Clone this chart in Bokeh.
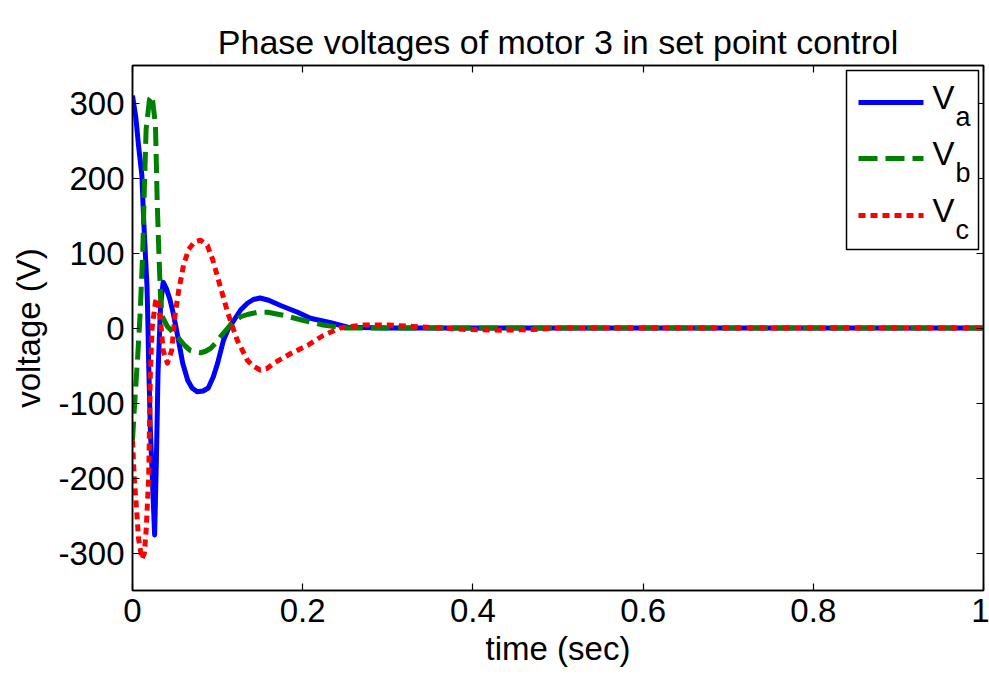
from bokeh.plotting import figure
from bokeh.models import (LinearAxis, FixedTicker, Range1d, Label, BoxAnnotation)
from bokeh.embed import file_html
from bokeh.resources import INLINE

# ---------------- data ----------------
title_text = "Phase voltages of motor 3 in set point control"
x_label = "time (sec)"
y_label = "voltage (V)"
x_ticks = [0, 0.2, 0.4, 0.6, 0.8, 1]
x_tick_labels = ["0", "0.2", "0.4", "0.6", "0.8", "1"]
y_ticks = [-300, -200, -100, 0, 100, 200, 300]
y_tick_labels = ["-300", "-200", "-100", "0", "100", "200", "300"]
series_names = ["a", "b", "c"]

t_a = [0.000, 0.004, 0.007, 0.011, 0.013, 0.015, 0.017, 0.018, 0.019, 0.021,
       0.026, 0.028, 0.030, 0.033, 0.036, 0.040, 0.044, 0.048, 0.053, 0.059,
       0.065, 0.070, 0.076, 0.083, 0.089, 0.095, 0.100, 0.107, 0.113, 0.119,
       0.127, 0.135, 0.142, 0.150, 0.160, 0.174, 0.194, 0.209, 0.233, 0.253,
       0.300, 0.500, 1.000]
v_a = [310, 280, 244, 204, 147, 101, 57, 11, -47, -136,
       -276, -180, -60, 30, 61, 52, 38, 19, -10, -47,
       -70, -80, -85, -84, -80, -65, -47, -16, 0, 10,
       24, 33, 38, 40, 37, 30, 21, 13, 7, 1,
       0, 0, 0]

t_b = [0.000, 0.002, 0.006, 0.009, 0.012, 0.014, 0.016, 0.020, 0.023, 0.027,
       0.029, 0.031, 0.033, 0.035, 0.041, 0.048, 0.056, 0.062, 0.068, 0.074,
       0.080, 0.086, 0.092, 0.097, 0.103, 0.109, 0.115, 0.121, 0.127, 0.135,
       0.147, 0.159, 0.177, 0.201, 0.224, 0.248, 0.500, 1.000]
v_b = [-150, -110, -40, 20, 100, 190, 265, 305, 310, 270,
       170, 100, 40, 15, 2, -6, -16, -24, -30, -32,
       -33, -31, -27, -21, -12, -4, 4, 10, 15, 18,
       21, 21, 17, 10, 4, 0, 0, 0]

t_c = [0.000, 0.002, 0.005, 0.007, 0.011, 0.014, 0.016, 0.019, 0.020, 0.021,
       0.023, 0.027, 0.029, 0.033, 0.036, 0.041, 0.046, 0.050, 0.054, 0.060,
       0.066, 0.073, 0.080, 0.088, 0.094, 0.100, 0.106, 0.112, 0.123, 0.135,
       0.141, 0.150, 0.158, 0.166, 0.186, 0.206, 0.224, 0.244, 0.271, 0.300,
       0.330, 0.362, 0.394, 0.432, 0.471, 0.503, 1.000]
v_c = [-150, -200, -245, -280, -308, -300, -270, -200, -130, -60,
       0, 35, 40, 10, -30, -47, -30, 17, 48, 84,
       105, 115, 117, 110, 92, 68, 44, 20, -16, -43,
       -50, -56, -54, -47, -34, -23, -10, 0, 4, 4,
       2, 0, -2, -3, -2, 0, 0]

# ---------------- styles ----------------
FONT = "Liberation Sans"
colors = ["#0000ff", "#008000", "#ff0000"]
dashes = ["solid", "19 8", "7 5"]
LW = 5

X0, X1 = 0.0, 1.0
Y0, Y1 = -350.0, 350.0
L, R, T, B = 132, 983, 65, 590  # frame edges in px

p = figure(width=989, height=675, output_backend="svg", toolbar_location=None,
           x_range=Range1d(X0, X1), y_range=Range1d(Y0, Y1),
           min_border_left=L, min_border_right=989 - R,
           min_border_top=T, min_border_bottom=675 - B,
           x_axis_location=None, y_axis_location=None)
p.background_fill_color = "white"
p.border_fill_color = "white"
p.grid.visible = False
p.outline_line_color = "black"
p.outline_line_width = 1.5

p.title.text = title_text
p.title.text_font = FONT
p.title.text_font_size = "34px"
p.title.text_font_style = "normal"
p.title.text_color = "black"
p.title.align = "center"
p.title.standoff = 10

def mk_axis(ticks, labels, show):
    ax = LinearAxis(ticker=FixedTicker(ticks=ticks))
    ax.major_label_overrides = {tk: lb for tk, lb in zip(ticks, labels)} if show else {tk: "" for tk in ticks}
    ax.major_tick_in = 7
    ax.major_tick_out = 0
    ax.minor_tick_line_color = None
    ax.axis_line_color = "black"
    ax.axis_line_width = 1.5
    ax.major_tick_line_width = 1.2
    ax.major_label_text_font = FONT
    ax.major_label_text_font_size = "33px" if show else "1px"
    ax.major_label_text_color = "black"
    ax.major_label_standoff = 8 if show else 0
    ax.axis_label_text_font = FONT
    ax.axis_label_text_font_size = "33px"
    ax.axis_label_text_font_style = "normal"
    ax.axis_label_text_color = "black"
    return ax

xb = mk_axis(x_ticks, x_tick_labels, True)
xb.axis_label = x_label
xb.axis_label_standoff = 5
p.add_layout(xb, "below")
yl = mk_axis(y_ticks, y_tick_labels, True)
yl.axis_label = y_label
yl.axis_label_standoff = 8
p.add_layout(yl, "left")
p.add_layout(mk_axis(x_ticks, x_tick_labels, False), "above")
p.add_layout(mk_axis(y_ticks, y_tick_labels, False), "right")

ts = [t_a, t_b, t_c]
vs = [v_a, v_b, v_c]
for t, v, c, d in zip(ts, vs, colors, dashes):
    p.line(t, v, line_color=c, line_width=LW, line_dash=d, line_join="round")

# ---------------- manual legend (positions from px) ----------------
def dx(px):
    return X0 + (px - L) / (R - L) * (X1 - X0)

def dy(py):
    return Y1 - (py - T) / (B - T) * (Y1 - Y0)

p.add_layout(BoxAnnotation(left=dx(846), right=dx(978), top=dy(70), bottom=dy(249),
                           fill_color="white", fill_alpha=1.0,
                           line_color="black", line_alpha=1.0, line_width=1.5,
                           level="annotation"))
row_px = [102, 158, 215]
for i, (name, c, d) in enumerate(zip(series_names, colors, dashes)):
    ry = row_px[i]
    p.line([dx(858), dx(923)], [dy(ry), dy(ry)], line_color=c, line_width=LW,
           line_dash=d, level="overlay")
    p.add_layout(Label(x=dx(932), y=dy(ry - 5), text="V", text_font=FONT,
                       text_font_size="33px", text_baseline="alphabetic",
                       text_color="black", level="overlay"))
    p.add_layout(Label(x=dx(955), y=dy(ry + 14), text=name, text_font=FONT,
                       text_font_size="27px", text_baseline="alphabetic",
                       text_color="black", level="overlay"))

open("out.html", "w").write(file_html(p, INLINE))
